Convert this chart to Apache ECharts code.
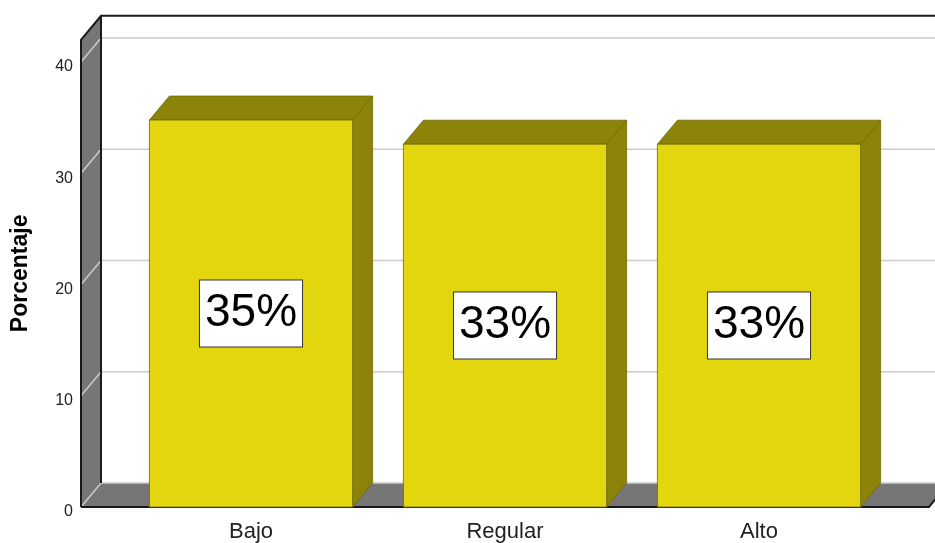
<!DOCTYPE html>
<html>
<head>
<meta charset="utf-8">
<script src="https://cdn.jsdelivr.net/npm/echarts@6/dist/echarts.min.js"></script>
<style>html,body{margin:0;padding:0;background:#fff;}#chart{width:935px;height:543px;}</style>
</head>
<body>
<div id="chart"></div>
<script>
const categories = ['Bajo', 'Regular', 'Alto'];
const values = [34.78, 32.61, 32.61];
const valueLabels = ['35%', '33%', '33%'];
const yTicks = [0, 10, 20, 30, 40];
const yMax = 42;

const FONT = '"Liberation Sans", Arial, sans-serif';
const DX = 20, DY = 24, EXT = 43;

function renderFrame(params, api) {
  const cs = params.coordSys;
  const xl = cs.x - EXT, xr = cs.x + cs.width + EXT;
  const y0 = api.coord([0, 0])[1];
  const yt = api.coord([0, yMax])[1];
  const ch = [];
  ch.push({type: 'polygon', shape: {points: [[xl, y0], [xl, yt], [xl + DX, yt - DY], [xl + DX, y0 - DY]]}, style: {fill: '#767676'}});
  ch.push({type: 'polygon', shape: {points: [[xl, y0], [xr, y0], [xr + DX, y0 - DY], [xl + DX, y0 - DY]]}, style: {fill: '#767676'}});
  yTicks.forEach(function (t) {
    const y = api.coord([0, t])[1];
    ch.push({type: 'polyline', shape: {points: [[xl, y], [xl + DX, y - DY], [xr + DX + 30, y - DY]]}, style: {stroke: '#cccccc', lineWidth: 1.5, fill: null}});
  });
  const dark = {stroke: '#1a1a1a', lineWidth: 2, fill: null};
  ch.push({type: 'polyline', shape: {points: [[xl, y0], [xl, yt], [xl + DX, yt - DY], [xr + DX + 30, yt - DY]]}, style: dark});
  ch.push({type: 'line', shape: {x1: xl + DX, y1: yt - DY, x2: xl + DX, y2: y0 - DY}, style: dark});
  ch.push({type: 'polyline', shape: {points: [[xl, y0], [xr, y0], [xr + DX, y0 - DY]]}, style: dark});
  return {type: 'group', children: ch};
}

function renderBar(params, api) {
  const i = api.value(0), v = api.value(1);
  const top = api.coord([i, v]);
  const bot = api.coord([i, 0]);
  const bw = api.size([1, 0])[0] * 0.8;
  const x0 = top[0] - bw / 2, x1 = top[0] + bw / 2;
  const yt = top[1], yb = bot[1];
  const edge = '#6f6800';
  return {
    type: 'group',
    children: [
      {type: 'polygon', shape: {points: [[x1, yt], [x1 + DX, yt - DY], [x1 + DX, yb - DY], [x1, yb]]}, style: {fill: '#8c840a', stroke: edge, lineWidth: 0.8}},
      {type: 'polygon', shape: {points: [[x0, yt], [x0 + DX, yt - DY], [x1 + DX, yt - DY], [x1, yt]]}, style: {fill: '#8c840a', stroke: edge, lineWidth: 0.8}},
      {type: 'rect', shape: {x: x0, y: yt, width: bw, height: yb - yt}, style: {fill: '#e3d60e', stroke: edge, lineWidth: 0.8}},
      {type: 'text', x: top[0], y: (yt + yb) / 2, style: {
        text: valueLabels[i], fontSize: 46, fontFamily: FONT, fill: '#000',
        align: 'center', verticalAlign: 'middle', lineHeight: 50,
        backgroundColor: '#fff', borderColor: '#333', borderWidth: 1, padding: [8, 5, 8, 5]
      }}
    ]
  };
}

const chart = echarts.init(document.getElementById('chart'), null, {renderer: 'canvas'});
chart.setOption({
  animation: false,
  backgroundColor: '#fff',
  grid: {left: 124, width: 762, top: 507 - yMax * 11.125, bottom: 36, containLabel: false, outerBoundsMode: 'none'},
  xAxis: {
    type: 'category', data: categories,
    axisLine: {show: false}, axisTick: {show: false},
    axisLabel: {fontSize: 22, color: '#222', fontFamily: FONT, margin: 14}
  },
  yAxis: {
    type: 'value', min: 0, max: yMax, interval: 10,
    name: 'Porcentaje', nameLocation: 'middle', nameGap: 92, nameRotate: 90,
    nameTextStyle: {fontSize: 23, fontWeight: 'bold', color: '#000', fontFamily: FONT},
    axisLine: {show: false}, axisTick: {show: false}, splitLine: {show: false},
    axisLabel: {fontSize: 16, color: '#222', fontFamily: FONT, margin: 51, verticalAlign: 'top', lineHeight: 10,
      formatter: function (v) { return yTicks.indexOf(v) >= 0 ? String(v) : ''; }}
  },
  series: [
    {type: 'custom', renderItem: renderFrame, data: [[0, 0]], encode: {x: 0, y: 1}, z: 1, silent: true},
    {type: 'custom', renderItem: renderBar, data: values.map(function (v, i) { return [i, v]; }), encode: {x: 0, y: 1}, z: 2}
  ]
});
</script>
</body>
</html>
